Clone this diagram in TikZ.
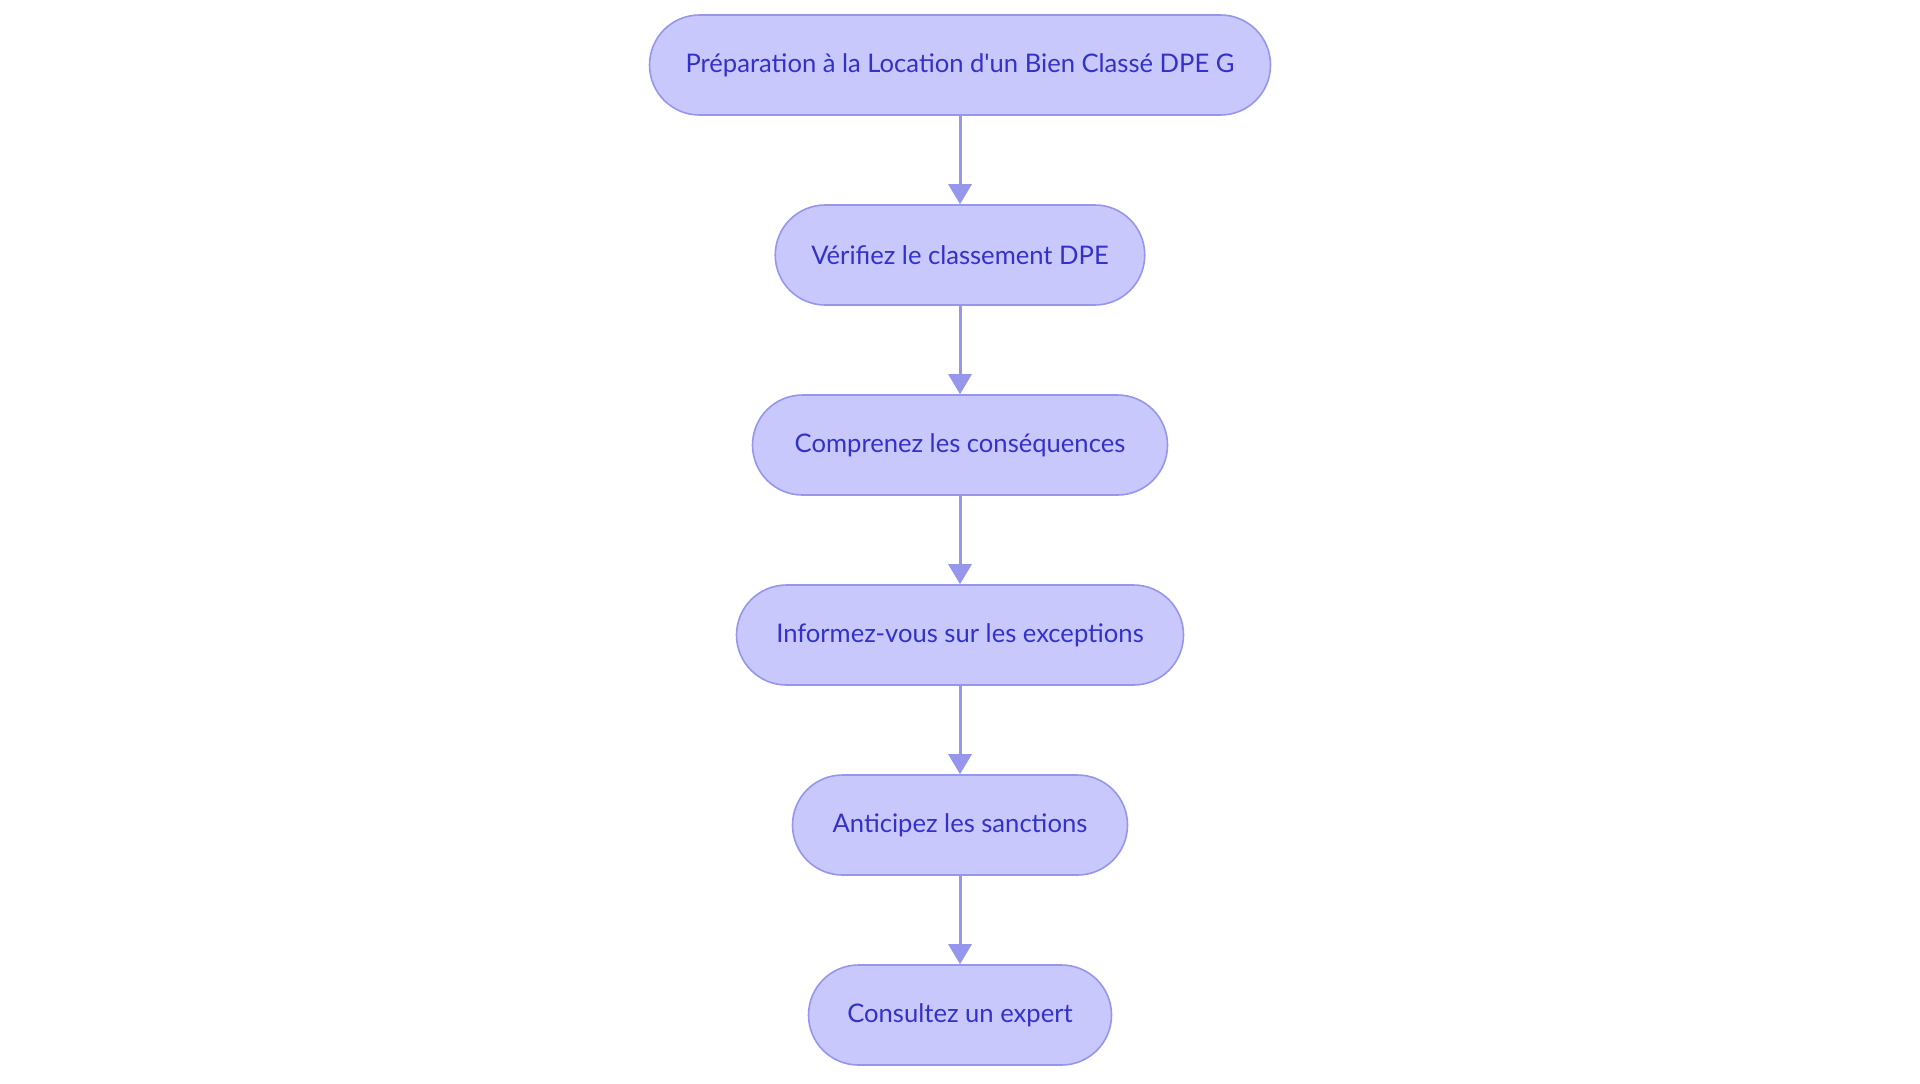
\documentclass[tikz,border=0pt]{standalone}
\usepackage{fontspec}
\setmainfont{Lato}
\usepackage{tikz}
\usetikzlibrary{arrows,arrows.meta,shapes}
\definecolor{boxfill}{RGB}{200,200,252}
\definecolor{boxline}{RGB}{150,150,236}
\definecolor{boxtext}{RGB}{50,50,200}
\tikzstyle{stage}=[rectangle,rounded corners=25pt,fill=boxfill,draw=boxline,line width=0.8pt,minimum height=50pt,inner xsep=18pt,text=boxtext,font=\fontsize{12.8}{15}\selectfont]
\tikzstyle{link} = [draw,line width=1.5pt,boxline,-{Triangle[width=11.5pt,length=10pt]}]

\begin{document}
\begin{tikzpicture}[x=1pt,y=1pt]
    \useasboundingbox (0,0) rectangle (960,-541.5);
    % First we draw the stages
    \foreach \pos/\name/\w/\txt in {{(480,-32.5)/prep/310.5/Préparation à la Location d\textquotesingle un Bien Classé DPE G},
        {(480,-127.5)/verif/184.5/Vérifiez le classement DPE},
        {(480,-222.5)/compr/207.5/Comprenez les conséquences},
        {(480,-317.5)/infor/223.5/Informez-vous sur les exceptions},
        {(480,-412.5)/antic/167.5/Anticipez les sanctions},
        {(480,-507.5)/consu/151.5/Consultez un expert}}
        \node[stage,minimum width=\w pt] (\name) at \pos {\txt};
    % Connect stages with arrows
    \foreach \source/ \dest in {prep/verif, verif/compr, compr/infor, infor/antic, antic/consu}
        \path[link] (\source) -- (\dest) ;

\end{tikzpicture}
\end{document}
